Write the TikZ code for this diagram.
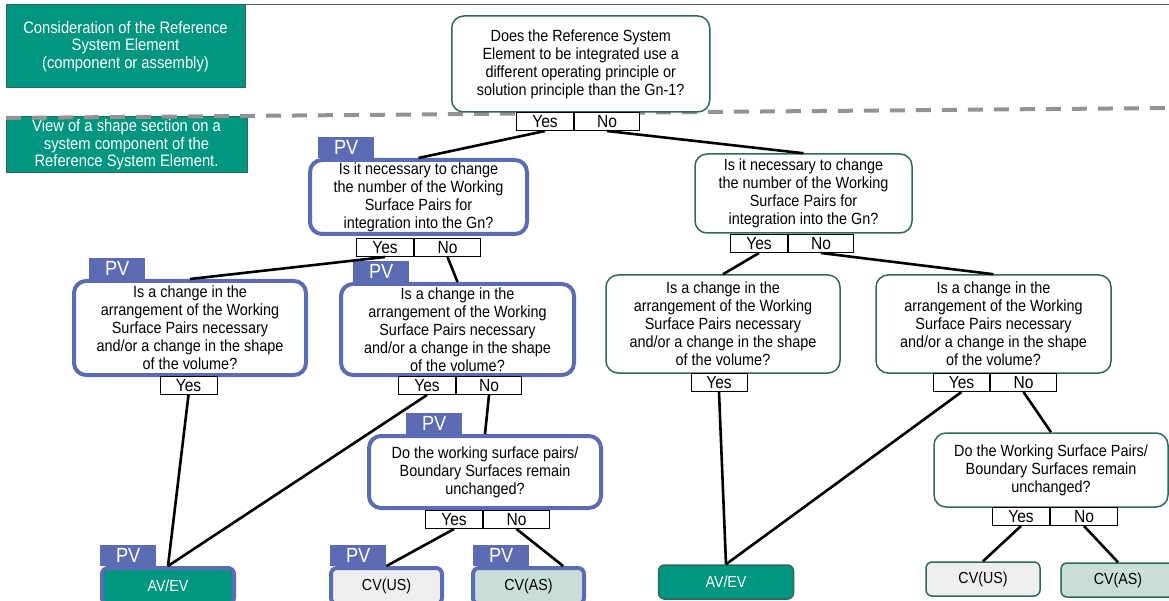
\documentclass[tikz,border=0pt]{standalone}
\usepackage{fontspec}
\setmainfont{Liberation Sans}[FakeStretch=0.89]
\usetikzlibrary{positioning}

\definecolor{rsgreen}{RGB}{0,150,128}
\definecolor{qline}{RGB}{46,105,90}
\definecolor{pvblue}{RGB}{92,108,180}
\definecolor{usgray}{RGB}{238,238,238}
\definecolor{asgreen}{RGB}{202,222,216}

\tikzset{
  question/.style={draw=qline,line width=1.5pt,rounded corners=12pt,fill=white,
    align=center,inner sep=0pt,font=\fontsize{16.2}{18}\selectfont},
  pvquestion/.style={question,draw=pvblue,line width=4pt},
  answer/.style={draw,line width=1pt,fill=white,minimum height=18pt,inner sep=0pt,
    font=\fontsize{17.5}{17.5}\selectfont},
  pvtab/.style={fill=pvblue,text=white,minimum width=56pt,minimum height=21pt,
    inner sep=0pt,anchor=south west,font=\fontsize{20.5}{20.5}\selectfont},
  result/.style={draw=qline,line width=1.5pt,rounded corners=6pt,minimum height=34pt,
    inner sep=0pt,font=\fontsize{16}{16}\selectfont},
  pvresult/.style={result,draw=pvblue,line width=4pt,minimum height=36pt},
  header/.style={fill=rsgreen,draw=qline,line width=1pt,text=white,align=center,
    inner sep=0pt,font=\fontsize{16.6}{17.7}\selectfont},
  link/.style={line width=2.6pt},
}

\begin{document}
\begin{tikzpicture}[x=1pt,y=-1pt]
\useasboundingbox (0,0) rectangle (1169,601);
\clip (0,0) rectangle (1169,601);

% element view
\node[header,minimum width=239pt,minimum height=83pt] (view1) at (125.5,46.5)
  {Consideration of the Reference\\System Element\\(component or assembly)};
\node[header,minimum width=241pt,minimum height=56pt] (view2) at (126.5,145)
  {View of a shape section on a\\system component of the\\Reference System Element.};
\draw[black!65,line width=1.5pt] (view1.north east) -- ++(924,0);
\draw[gray!85,line width=4pt,dash pattern=on 15pt off 11pt] (6,118) -- (1169,108);

% questions
\node[question,minimum width=258pt,minimum height=96pt] (q0) at (580.75,64)
  {Does the Reference System\\Element to be integrated use a\\different operating principle or\\solution principle than the Gn-1?};
\node[pvquestion,minimum width=217pt,minimum height=74pt] (p1) at (418.5,197)
  {Is it necessary to change\\the number of the Working\\Surface Pairs for\\integration into the Gn?};
\node[question,minimum width=217pt,minimum height=79pt] (q1) at (803.5,193.5)
  {Is it necessary to change\\the number of the Working\\Surface Pairs for\\integration into the Gn?};
\node[pvquestion,minimum width=232pt,minimum height=94pt] (pA) at (190,328)
  {Is a change in the\\arrangement of the Working\\Surface Pairs necessary\\and/or a change in the shape\\of the volume?};
\node[pvquestion,minimum width=233pt,minimum height=91pt] (pB) at (457.5,329.5)
  {Is a change in the\\arrangement of the Working\\Surface Pairs necessary\\and/or a change in the shape\\of the volume?};
\node[question,minimum width=234pt,minimum height=98pt] (qC) at (723,324)
  {Is a change in the\\arrangement of the Working\\Surface Pairs necessary\\and/or a change in the shape\\of the volume?};
\node[question,minimum width=235pt,minimum height=98pt] (qD) at (993.5,324)
  {Is a change in the\\arrangement of the Working\\Surface Pairs necessary\\and/or a change in the shape\\of the volume?};
\node[pvquestion,minimum width=232pt,minimum height=72pt] (pE) at (485,472)
  {Do the working surface pairs/\\Boundary Surfaces remain\\unchanged?};
\node[question,minimum width=234pt,minimum height=74pt] (qF) at (1051,470)
  {Do the Working Surface Pairs/\\Boundary Surfaces remain\\unchanged?};

% answers
\node[answer,minimum width=57pt,anchor=north east] (q0y) at (574,112) {Yes};
\node[answer,minimum width=65pt,anchor=north west] (q0n) at (574,112) {No};
\node[answer,minimum width=57pt,anchor=north east] (p1y) at (414,238) {Yes};
\node[answer,minimum width=66pt,anchor=north west] (p1n) at (414,238) {No};
\node[answer,minimum width=57pt,anchor=north east] (q1y) at (788,234) {Yes};
\node[answer,minimum width=65pt,anchor=north west] (q1n) at (788,234) {No};
\node[answer,minimum width=57pt,anchor=north] (pAy) at (188.5,376) {Yes};
\node[answer,minimum width=57pt,anchor=north east] (pBy) at (456,376) {Yes};
\node[answer,minimum width=65pt,anchor=north west] (pBn) at (456,376) {No};
\node[answer,minimum width=56pt,anchor=north] (qCy) at (719,373) {Yes};
\node[answer,minimum width=56pt,anchor=north east] (qDy) at (990,373) {Yes};
\node[answer,minimum width=66pt,anchor=north west] (qDn) at (990,373) {No};
\node[answer,minimum width=57pt,anchor=north east] (pEy) at (483,510) {Yes};
\node[answer,minimum width=66pt,anchor=north west] (pEn) at (483,510) {No};
\node[answer,minimum width=57pt,anchor=north east] (qFy) at (1050,507) {Yes};
\node[answer,minimum width=67pt,anchor=north west] (qFn) at (1050,507) {No};

% variants
\node[pvresult,fill=rsgreen,text=white,minimum width=132pt] (lA) at (168,586) {AV/EV};
\node[pvresult,fill=usgray,minimum width=111pt] (lB) at (386.5,586) {CV(US)};
\node[pvresult,fill=asgreen,minimum width=111pt] (lC) at (528.5,586) {CV(AS)};
\node[result,fill=rsgreen,text=white,minimum width=135pt] (lD) at (726,582) {AV/EV};
\node[result,fill=usgray,minimum width=114pt] (lE) at (983,579) {CV(US)};
\node[result,fill=asgreen,minimum width=114pt] (lF) at (1118,580) {CV(AS)};

\foreach \n/\x/\y in {p1/318/158, pA/89/279, pB/353/282, pE/406/434,
                      lA/100/566, lB/330/566, lC/473/566}
  \node[pvtab] (tab\n) at (\x,\y) {PV};

% decisions
\draw[link] (q0y.south) -- (p1.north);
\draw[link] (q0n.south) -- (q1.north);
\draw[link] (p1y.south) -- (pA.north);
\draw[link] (p1n.south) -- (pB.north);
\draw[link] (q1y.south) -- (qC.north);
\draw[link] (q1n.south) -- (qD.north);
\draw[link] (pAy.south) -- (lA.north);
\draw[link] (pBy.south) -- (lA.north);
\draw[link] (pBn.south) -- (pE.north);
\draw[link] (pEy.south) -- (lB.north);
\draw[link] (pEn.south) -- (lC.30);
\draw[link] (qCy.south) -- (lD.north);
\draw[link] (qDy.south) -- (lD.north);
\draw[link] (qDn.south) -- (qF.north);
\draw[link] (qFy.south) -- (lE.north);
\draw[link] (qFn.south) -- (lF.north);

\end{tikzpicture}
\end{document}
